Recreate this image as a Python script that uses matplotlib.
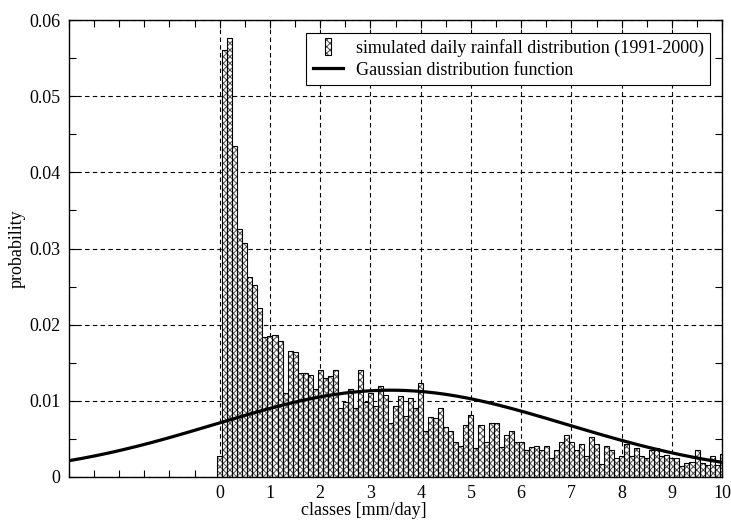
import numpy as np
import matplotlib
matplotlib.use("Agg")
import matplotlib.pyplot as plt
from matplotlib.ticker import FixedLocator, MultipleLocator
from matplotlib.patches import Rectangle
from matplotlib.legend_handler import HandlerPatch
from matplotlib.lines import Line2D

# ---- data ----
class_centers = [round(0.1 * k, 1) for k in range(101)]
probability = [
    0.0028, 0.0560, 0.0576, 0.0434, 0.0326, 0.0307, 0.0263, 0.0252, 0.0222, 0.0184,
    0.0185, 0.0187, 0.0178, 0.0110, 0.0166, 0.0164, 0.0137, 0.0137, 0.0134, 0.0116,
    0.0140, 0.0130, 0.0132, 0.0140, 0.0090, 0.0099, 0.0115, 0.0091, 0.0140, 0.0098,
    0.0110, 0.0093, 0.0120, 0.0108, 0.0071, 0.0093, 0.0107, 0.0080, 0.0104, 0.0090,
    0.0123, 0.0061, 0.0079, 0.0077, 0.0090, 0.0065, 0.0061, 0.0046, 0.0041, 0.0068,
    0.0082, 0.0038, 0.0068, 0.0046, 0.0071, 0.0071, 0.0040, 0.0055, 0.0060, 0.0046,
    0.0046, 0.0035, 0.0039, 0.0041, 0.0035, 0.0041, 0.0025, 0.0035, 0.0046, 0.0055,
    0.0046, 0.0035, 0.0043, 0.0027, 0.0052, 0.0043, 0.0017, 0.0041, 0.0035, 0.0025,
    0.0027, 0.0043, 0.0027, 0.0038, 0.0027, 0.0025, 0.0036, 0.0038, 0.0027, 0.0029,
    0.0025, 0.0025, 0.0015, 0.0019, 0.0020, 0.0035, 0.0019, 0.0016, 0.0027, 0.0016,
    0.0030,
]
gauss_mean = 3.4
gauss_std = 3.5
class_width = 0.1
x_tick_values = list(range(0, 11))
x_tick_labels = [str(v) for v in x_tick_values]
y_tick_values = [0, 0.01, 0.02, 0.03, 0.04, 0.05, 0.06]
y_tick_labels = ["0", "0.01", "0.02", "0.03", "0.04", "0.05", "0.06"]
legend_labels = ["simulated daily rainfall distribution (1991-2000)",
                 "Gaussian distribution function"]

plt.rcParams['font.family'] = ['Liberation Serif', 'DejaVu Serif']
plt.rcParams['hatch.linewidth'] = 0.7
FS = 13
HATCH_COLOR = '#4a4a4a'

fig = plt.figure(figsize=(7.31, 5.20), dpi=100)
ax = fig.add_axes([0.0944, 0.0827, 0.8935, 0.8788])

# bars: hatch layer then outline layer
ax.bar(class_centers, probability, width=class_width, color='white',
       edgecolor=HATCH_COLOR, hatch='xxxxx', linewidth=0, zorder=2)
ax.bar(class_centers, probability, width=class_width, fill=False,
       edgecolor='black', linewidth=0.8, zorder=3)

# Gaussian curve
xs = np.linspace(-3, 10, 400)
gy = class_width / (gauss_std * np.sqrt(2 * np.pi)) * np.exp(-(xs - gauss_mean) ** 2 / (2 * gauss_std ** 2))
ax.plot(xs, gy, color='black', lw=2.3, zorder=4, solid_capstyle='butt')

ax.set_xlim(-3, 10)
ax.set_ylim(0, 0.06)

ax.xaxis.set_major_locator(FixedLocator(x_tick_values))
ax.set_xticklabels(x_tick_labels)
ax.xaxis.set_minor_locator(MultipleLocator(0.5))
ax.yaxis.set_major_locator(FixedLocator(y_tick_values))
ax.set_yticklabels(y_tick_labels)
ax.yaxis.set_minor_locator(MultipleLocator(0.005))

ax.tick_params(which='both', direction='in', top=True, right=True,
               labelsize=FS, width=0.8, colors='black')
ax.tick_params(which='major', length=6, pad=6)
ax.tick_params(which='minor', length=5)

ax.grid(True, which='major', linestyle=(0, (4, 3)), color='black', lw=0.8, zorder=1)
ax.set_axisbelow(True)
for s in ax.spines.values():
    s.set_linewidth(1.0)
    s.set_zorder(5)

ax.set_xlabel("classes [mm/day]", fontsize=FS)
ax.xaxis.set_label_coords(0.452, -0.055)
ax.set_ylabel("probability", fontsize=FS)
ax.yaxis.set_label_coords(-0.066, 0.5)


class NarrowBar(HandlerPatch):
    def create_artists(self, legend, orig_handle, xdescent, ydescent, width,
                       height, fontsize, trans):
        w = 0.3 * fontsize
        h = 0.9 * fontsize
        x0 = -xdescent + width / 2 - w / 2
        y0 = -ydescent + height / 2 - h / 2
        p1 = Rectangle((x0, y0), w, h, facecolor='white', edgecolor=HATCH_COLOR,
                       hatch='xxxxx', linewidth=0, transform=trans)
        p2 = Rectangle((x0, y0), w, h, fill=False, edgecolor='black',
                       linewidth=0.8, transform=trans)
        return [p1, p2]


bar_handle = Rectangle((0, 0), 1, 1)
line_handle = Line2D([], [], color='black', lw=2.3)
leg = ax.legend([bar_handle, line_handle], legend_labels,
                handler_map={Rectangle: NarrowBar()},
                loc='upper right', bbox_to_anchor=(0.99, 0.984),
                fontsize=FS, frameon=True, fancybox=False, framealpha=1,
                edgecolor='black', handlelength=1.7, handletextpad=0.7,
                borderpad=0.35, labelspacing=0.25, borderaxespad=0.3)
leg.get_frame().set_linewidth(0.8)
leg.set_zorder(6)

fig.savefig("out.png", dpi=100)
